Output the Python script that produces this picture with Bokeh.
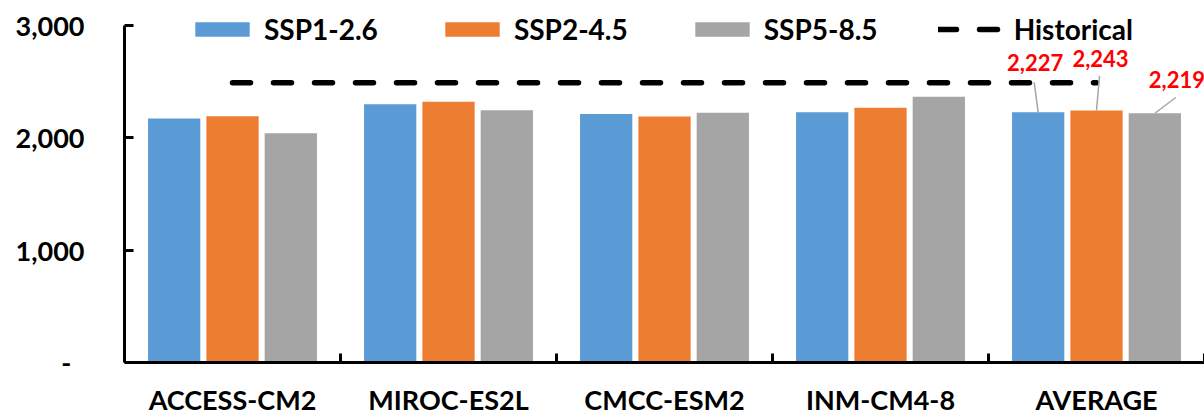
from bokeh.plotting import figure
from bokeh.models import (ColumnDataSource, FixedTicker, LabelSet, Legend, LegendItem,
                          NumeralTickFormatter, Range1d)
from bokeh.transform import dodge
from bokeh.core.properties import value
from bokeh.embed import file_html
from bokeh.resources import INLINE

# Annual totals per climate model and scenario
models = ["ACCESS-CM2", "MIROC-ES2L", "CMCC-ESM2", "INM-CM4-8", "AVERAGE"]
ssp126 = [2173, 2298, 2212, 2227, 2227]
ssp245 = [2192, 2321, 2189, 2268, 2243]
ssp585 = [2041, 2246, 2224, 2365, 2219]
historical = [2490, 2490, 2490, 2490, 2490]
y_ticks = [0, 1000, 2000, 3000]

series_names = ["SSP1-2.6", "SSP2-4.5", "SSP5-8.5"]
colors = ["#5B9BD5", "#ED7D31", "#A5A5A5"]
offsets = [-0.27, 0.0, 0.27]
bar_width = 0.242

FONT = "Lato"

idx = list(range(len(models)))
src = ColumnDataSource(dict(idx=idx, ssp126=ssp126, ssp245=ssp245,
                            ssp585=ssp585, hist=historical, name=models))

# The plotting area fills the canvas vertically: the legend sits above the
# 3,000 line and the model names hang below the zero line, which is drawn
# by a category axis pinned at y = 0.
p = figure(width=1204, height=417, output_backend="svg", toolbar_location=None,
           x_range=Range1d(-0.5, len(models) - 0.5), y_range=Range1d(-489.6, 3222.6),
           min_border_left=124, min_border_right=0, min_border_top=0,
           min_border_bottom=0)
p.outline_line_color = None
p.xgrid.visible = False
p.ygrid.visible = False
p.background_fill_color = "white"
p.border_fill_color = "white"

bar_renderers = []
for col, name, c, off in zip(["ssp126", "ssp245", "ssp585"], series_names, colors, offsets):
    r = p.vbar(x=dodge("idx", off, range=p.x_range), top=col, width=bar_width,
               source=src, fill_color=c, line_color=None)
    bar_renderers.append(r)

hist_r = p.line(x="idx", y="hist", source=src, line_color="black", line_width=5.5,
                line_dash="18 23", line_cap="round")

# Value call-outs on the AVERAGE group
avg_vals = [ssp126[-1], ssp245[-1], ssp585[-1]]
avg_x = [idx[-1] + off for off in offsets]
lead_dx = [-0.0185, 0.014, 0.097]
lead_dy = [267, 309, 140]
lbl_src = ColumnDataSource(dict(
    x=avg_x, y=avg_vals,
    x1=[x + d for x, d in zip(avg_x, lead_dx)],
    y1=[v + d for v, d in zip(avg_vals, lead_dy)],
    text=[f"{v:,}" for v in avg_vals],
    xo=[-3, 4, 22], yo=[41.6, 43.8, 25.5]))
p.segment(x0="x", y0="y", x1="x1", y1="y1", source=lbl_src,
          line_color="#A6A6A6", line_width=1.5)
p.add_layout(LabelSet(x="x", y="y", text="text", x_offset="xo", y_offset="yo",
                      source=lbl_src, text_font=value(FONT), text_font_style="bold",
                      text_font_size="22px", text_color="#FF0000",
                      text_align="center", text_baseline="alphabetic"))

# Value axis
yax = p.yaxis[0]
yax.ticker = FixedTicker(ticks=y_ticks)
yax.bounds = (y_ticks[0], y_ticks[-1])
yax.formatter = NumeralTickFormatter(format="0,0")
yax.major_label_overrides = {0: "-\u00a0\u00a0"}
yax.axis_line_width = 3
yax.axis_line_color = "black"
yax.major_tick_in = 9
yax.major_tick_out = 0
yax.major_tick_line_width = 3
yax.minor_tick_line_color = None
yax.major_label_standoff = 40
yax.major_label_text_font = FONT
yax.major_label_text_font_style = "bold"
yax.major_label_text_font_size = "27px"
yax.major_label_text_color = "black"

# Category axis on the zero line: ticks between the model groups
xax = p.xaxis[0]
xax.fixed_location = 0
xax.ticker = FixedTicker(ticks=idx, minor_ticks=[i - 0.5 for i in range(len(models) + 1)])
xax.major_label_overrides = {i: m for i, m in zip(idx, models)}
xax.axis_line_width = 3
xax.axis_line_color = "black"
xax.major_tick_in = 0
xax.major_tick_out = 0
xax.minor_tick_in = 9
xax.minor_tick_out = 0
xax.minor_tick_line_width = 3
xax.minor_tick_line_color = "black"
xax.major_label_standoff = 20
xax.major_label_text_font = FONT
xax.major_label_text_font_style = "bold"
xax.major_label_text_font_size = "27px"
xax.major_label_text_color = "black"

legend = Legend(
    items=[LegendItem(label=n, renderers=[r]) for n, r in zip(series_names, bar_renderers)]
    + [LegendItem(label="Historical", renderers=[hist_r])],
    orientation="horizontal", location=(64, 371),
    glyph_width=68, glyph_height=18, label_standoff=8, spacing=60,
    padding=0, margin=0, border_line_color=None, background_fill_alpha=0,
    label_text_font=FONT, label_text_font_style="bold", label_text_font_size="28px",
    label_text_color="black")
p.add_layout(legend)

open("out.html", "w").write(file_html(p, INLINE))
